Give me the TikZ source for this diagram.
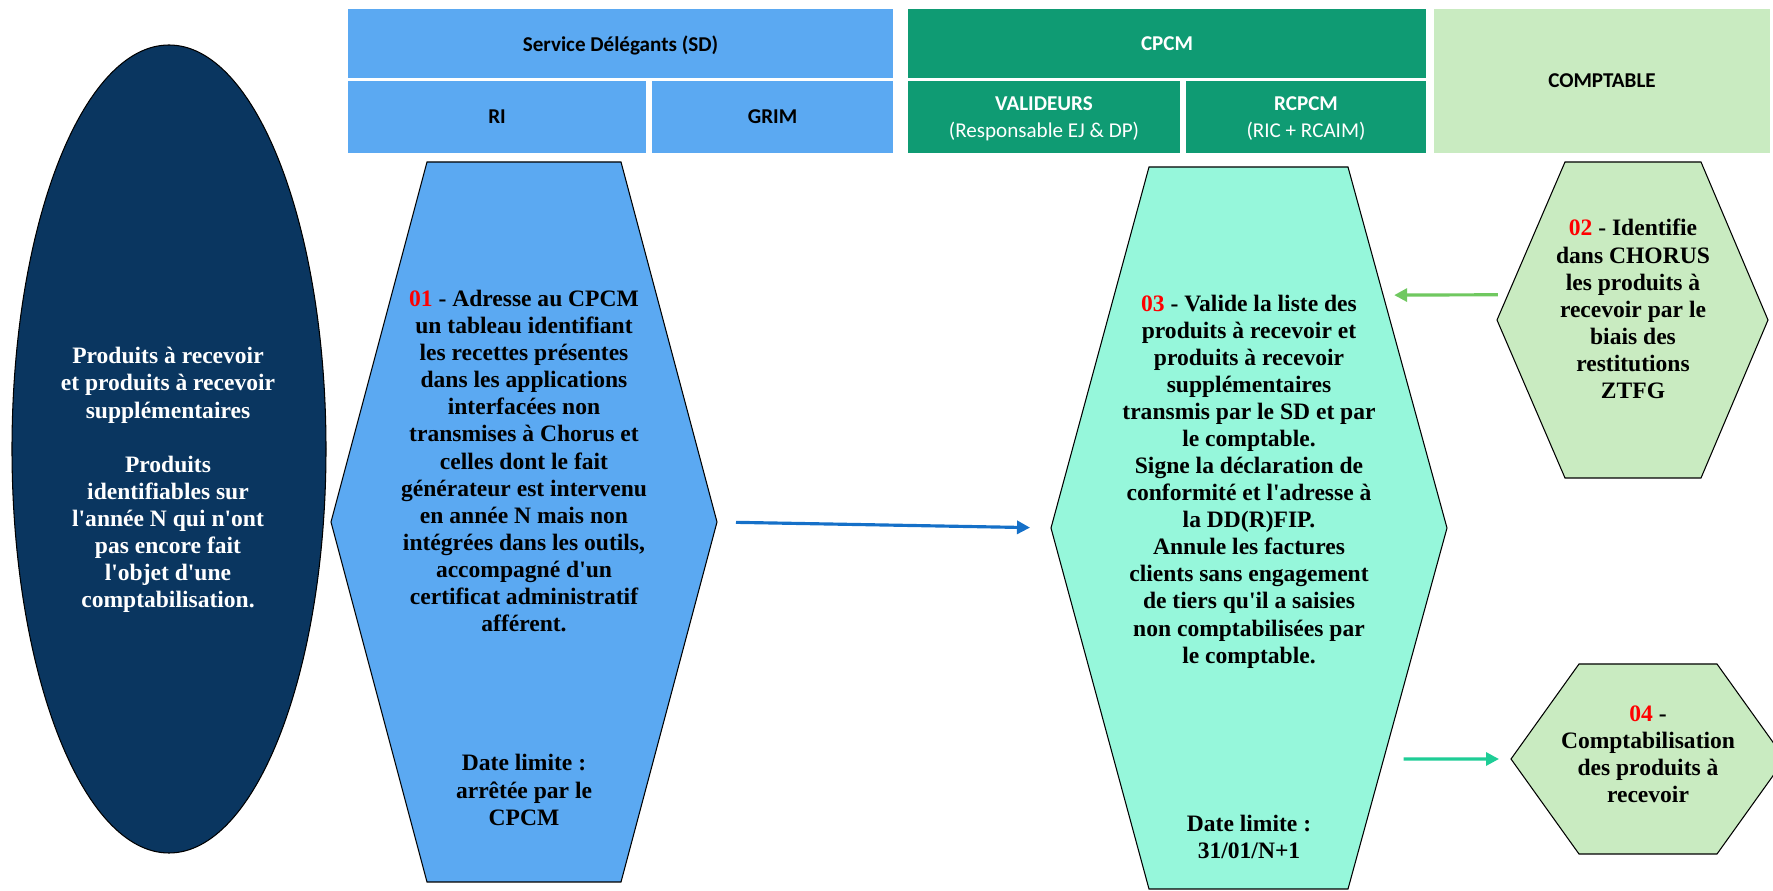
\documentclass[tikz,border=0pt]{standalone}
\usepackage{fontspec}
\setmainfont{Liberation Serif}
\newfontfamily\hdrfont{Carlito}
\usepackage{xcolor}
\usetikzlibrary{shapes.geometric, arrows.meta, calc}

\definecolor{sdblue}{RGB}{91,169,242}
\definecolor{cpcmgreen}{RGB}{15,155,115}
\definecolor{cptgreen}{RGB}{201,235,193}
\definecolor{navy}{RGB}{10,54,96}
\definecolor{aqua}{RGB}{150,247,219}
\definecolor{arrblue}{RGB}{21,112,200}
\definecolor{arrgreen}{RGB}{112,200,96}
\definecolor{arrteal}{RGB}{30,205,150}

\begin{document}
\begin{tikzpicture}[
    hdr/.style={rectangle, anchor=north west, inner sep=0pt, outer sep=0pt, align=center, text depth=0pt,
        font=\hdrfont\fontsize{12}{15.4}\selectfont\bfseries},
    hexa/.style={draw=black, line width=0.6pt},
    body/.style={align=center, inner sep=0pt, font=\fontsize{13.4}{15.4}\selectfont\bfseries},
    flow/.style={-{Triangle[length=0.26cm, width=0.26cm]}, line width=1.8pt}
]

    \useasboundingbox (0,0) rectangle (35.46,-17.82);

    % Header: Service Delegants
    \node[hdr, fill=sdblue, minimum width=10.90cm, minimum height=1.38cm] (sd) at (6.96,-0.18) {Service Délégants (SD)};
    \node[hdr, fill=sdblue, minimum width=5.96cm, minimum height=1.44cm] (ri) at (6.96,-1.62) {RI};
    \node[hdr, fill=sdblue, minimum width=4.82cm, minimum height=1.44cm] (grim) at (13.04,-1.62) {GRIM};

    % Header: CPCM
    \node[hdr, fill=cpcmgreen, text=white, minimum width=10.36cm, minimum height=1.38cm] (cpcm) at (18.16,-0.18) {CPCM};
    \node[hdr, fill=cpcmgreen, text=white, minimum width=5.44cm, minimum height=1.44cm] (valid) at (18.16,-1.62) {VALIDEURS\\\mdseries(Responsable EJ \& DP)};
    \node[hdr, fill=cpcmgreen, text=white, minimum width=4.80cm, minimum height=1.44cm] (rcpcm) at (23.72,-1.62) {RCPCM\\\mdseries(RIC + RCAIM)};

    % Header: Comptable
    \node[hdr, fill=cptgreen, minimum width=6.72cm, minimum height=2.88cm] (cpt) at (28.68,-0.18) {COMPTABLE};

    % Ellipse: products to receive
    \node[ellipse, draw=black, line width=0.6pt, fill=navy, minimum width=6.28cm, minimum height=16.16cm, inner sep=0pt] (ell) at (3.38,-8.98) {};
    \node[body, text=white] (ellt) at (3.36,-9.60) {Produits à recevoir\\et produits à recevoir\\supplémentaires\\[15.4pt]Produits\\identifiables sur\\l\textquotesingle année N qui n\textquotesingle ont\\pas encore fait\\l\textquotesingle objet d\textquotesingle une\\comptabilisation.};

    % Step 01 (SD)
    \filldraw[hexa, fill=sdblue] (6.62,-10.44) coordinate (h01W) -- (8.54,-3.24) coordinate (h01NW)
        -- (12.42,-3.24) coordinate (h01NE) -- (14.34,-10.44) coordinate (h01E)
        -- (12.42,-17.64) coordinate (h01SE) -- (8.54,-17.64) coordinate (h01SW) -- cycle;
    \node[body] (t01) at (10.48,-9.22) {\textcolor{red}{01} - Adresse au CPCM\\un tableau identifiant\\les recettes présentes\\dans les applications\\interfacées non\\transmises à Chorus et\\celles dont le fait\\générateur est intervenu\\en année N mais non\\intégrées dans les outils,\\accompagné d\textquotesingle un\\certificat administratif\\afférent.};
    \node[body] (d01) at (10.48,-15.80) {Date limite :\\arrêtée par le\\CPCM};

    % Step 03 (CPCM)
    \filldraw[hexa, fill=aqua] (21.02,-10.56) coordinate (h03W) -- (22.98,-3.34) coordinate (h03NW)
        -- (26.96,-3.34) coordinate (h03NE) -- (28.94,-10.56) coordinate (h03E)
        -- (26.96,-17.78) coordinate (h03SE) -- (22.98,-17.78) coordinate (h03SW) -- cycle;
    \node[body] (t03) at (24.98,-9.63) {\textcolor{red}{03} - Valide la liste des\\produits à recevoir et\\produits à recevoir\\supplémentaires\\transmis par le SD et par\\le comptable.\\Signe la déclaration de\\conformité et l\textquotesingle adresse à\\la DD(R)FIP.\\Annule les factures\\clients sans engagement\\de tiers qu\textquotesingle il a saisies\\non comptabilisées par\\le comptable.};
    \node[body] (d03) at (24.98,-16.74) {Date limite :\\31/01/N+1};

    % Step 02 (Comptable)
    \filldraw[hexa, fill=cptgreen] (29.94,-6.40) coordinate (h02W) -- (31.30,-3.24) coordinate (h02NW)
        -- (34.02,-3.24) coordinate (h02NE) -- (35.36,-6.40) coordinate (h02E)
        -- (34.02,-9.56) coordinate (h02SE) -- (31.30,-9.56) coordinate (h02SW) -- cycle;
    \node[body] (t02) at (32.66,-6.18) {\textcolor{red}{02} - Identifie\\dans CHORUS\\les produits à\\recevoir par le\\biais des\\restitutions\\ZTFG};

    % Step 04 (Comptable)
    \filldraw[hexa, fill=cptgreen] (30.22,-15.18) coordinate (h04W) -- (31.58,-13.28) coordinate (h04NW)
        -- (34.34,-13.28) coordinate (h04NE) -- (35.70,-15.18) coordinate (h04E)
        -- (34.34,-17.08) coordinate (h04SE) -- (31.58,-17.08) coordinate (h04SW) -- cycle;
    \node[body] (t04) at (32.96,-15.08) {\textcolor{red}{04} -\\Comptabilisation\\des produits à\\recevoir};

    % Flows between steps
    \draw[flow, arrblue, shorten <=0.38cm, shorten >=0.42cm] (h01E) -- (h03W);
    \draw[flow, arrgreen, shorten <=0.2cm, shorten >=0.22cm] ($(h02W)!0.16!(h02NW)$) -- ($(h03E)!0.645!(h03NE)$);
    \draw[flow, arrteal, shorten <=0.4cm, shorten >=0.24cm] ($(h03E)!0.64!(h03SE)$) -- (h04W);

\end{tikzpicture}
\end{document}
